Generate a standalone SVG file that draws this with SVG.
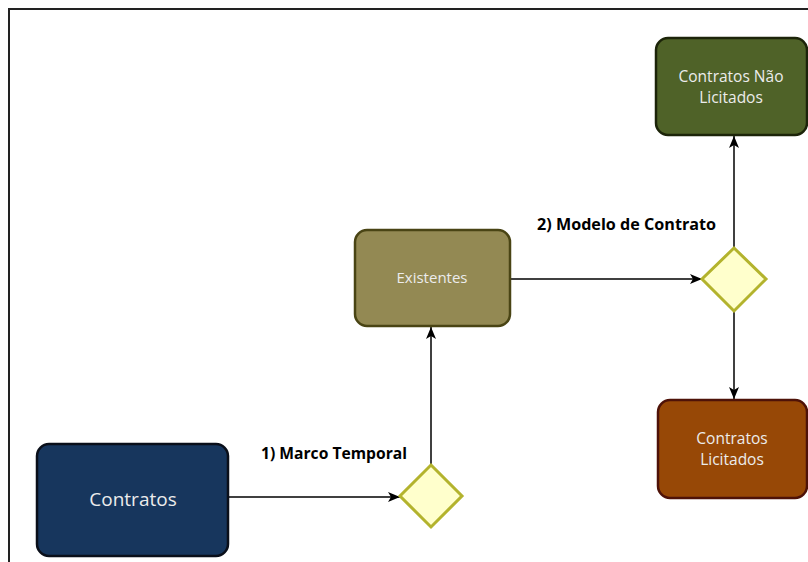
<svg xmlns="http://www.w3.org/2000/svg" width="808" height="562" viewBox="0 0 808 562">
<defs>
<marker id="arr" viewBox="0 0 12 10" refX="12" refY="5" markerWidth="12" markerHeight="10" markerUnits="userSpaceOnUse" orient="auto">
<path d="M0,0 L12,5 L0,10 L3,5 Z" fill="#000"/>
</marker>
<style>
.box{stroke-width:2.5}
.dia{fill:#ffffcc;stroke:#b3b32d;stroke-width:3}
.lbl{font-family:"Open Sans","Noto Sans",sans-serif;fill:#ececec;text-anchor:middle}
.edge{fill:none;stroke:#000;stroke-width:1.5;marker-end:url(#arr)}
.elbl{font-family:"Open Sans","Noto Sans",sans-serif;font-weight:bold;font-size:15.7px;fill:#000}
</style>
</defs>
<rect width="808" height="562" fill="#fff"/>
<path d="M9,562 V9 H808" fill="none" stroke="#222" stroke-width="2"/>
<g id="connectors">
<line class="edge" x1="229" y1="497" x2="400" y2="497"/>
<line class="edge" x1="431" y1="465" x2="431" y2="327"/>
<line class="edge" x1="511" y1="279" x2="702" y2="279"/>
<line class="edge" x1="734" y1="248" x2="734" y2="136"/>
<line class="edge" x1="734" y1="311" x2="734" y2="399"/>
<text class="elbl" x="261" y="459" textLength="146" lengthAdjust="spacingAndGlyphs">1) Marco Temporal</text>
<text class="elbl" x="537" y="230" textLength="179" lengthAdjust="spacingAndGlyphs">2) Modelo de Contrato</text>
</g>
<g id="contratos">
<rect class="box" x="37" y="444" width="191" height="112" rx="12" fill="#17365d" stroke="#0a0f1a"/>
<text class="lbl" x="133" y="506" font-size="19">Contratos</text>
</g>
<g id="decisao1">
<polygon class="dia" points="431,465 462,496 431,527 400,496"/>
</g>
<g id="existentes">
<rect class="box" x="355" y="230" width="155" height="96" rx="12" fill="#938953" stroke="#494414"/>
<text class="lbl" x="432" y="283" font-size="15">Existentes</text>
</g>
<g id="decisao2">
<polygon class="dia" points="734,248 766,279 734,311 702,279"/>
</g>
<g id="nao-licitados">
<rect class="box" x="656" y="38" width="151" height="97" rx="12" fill="#4f6228" stroke="#1c2409"/>
<text class="lbl" x="731" y="82" font-size="15.5">Contratos Não</text>
<text class="lbl" x="731" y="103" font-size="15.5">Licitados</text>
</g>
<g id="licitados">
<rect class="box" x="658" y="400" width="149" height="98" rx="12" fill="#974806" stroke="#4e1208"/>
<text class="lbl" x="732" y="444" font-size="15.5">Contratos</text>
<text class="lbl" x="732" y="465" font-size="15.5">Licitados</text>
</g>
</svg>
